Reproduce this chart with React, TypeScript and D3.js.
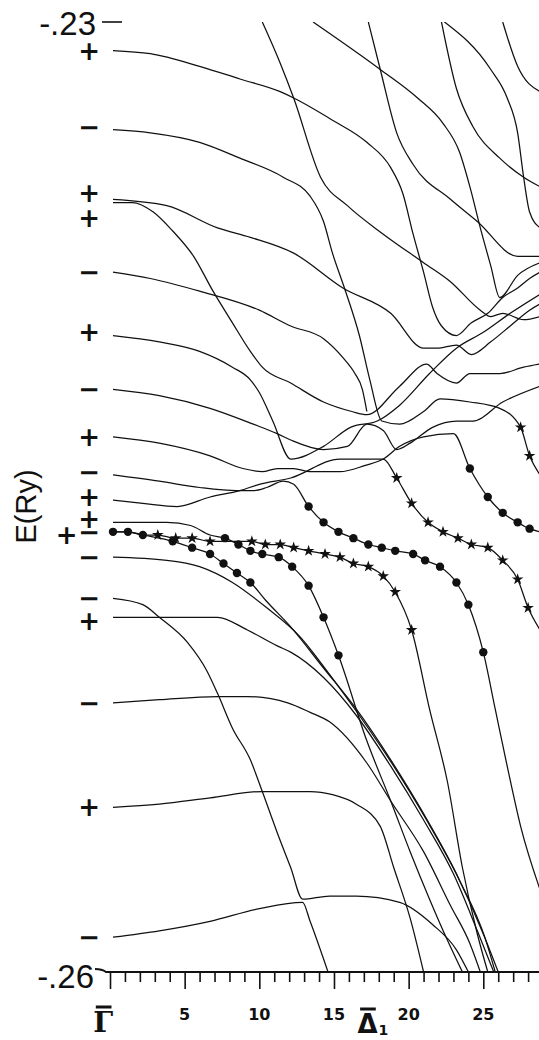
import { useRef, useEffect } from 'react';
import * as d3 from 'd3';

// k in grid steps from Γ̄ towards Δ̄1, E in mRy (axis labelled in Ry)
// third item marks a calculated point: 'c' = dot, 's' = star
type Pt = [number, number, string?];

const band01: Pt[] = [[0.2,-230.9],[2.7,-231.0],[6.0,-231.4],[8.7,-231.8],[11.4,-232.2],[12.3,-232.4],[14.9,-233.1],[17.2,-233.8],[18.8,-234.6],[19.6,-235.4],[20.3,-236.7],[21.0,-237.9],[21.6,-239.0],[22.2,-239.6],[23.2,-239.9],[24.2,-239.5],[25.3,-239.2],[26.3,-238.7],[27.3,-238.4],[28.1,-238.1],[28.8,-237.9]];
const band02: Pt[] = [[0.2,-233.4],[2.7,-233.5],[6.0,-233.8],[8.7,-234.3],[11.6,-234.9],[13.4,-235.5],[14.3,-236.3],[14.9,-237.3],[15.7,-238.4],[16.7,-239.9],[17.4,-241.3],[18.2,-242.6],[19.4,-242.7],[21.0,-242.3],[22.1,-241.9],[24.1,-242.0],[26.1,-242.2],[27.5,-242.8,'s'],[28.1,-243.7,'s'],[28.8,-244.3]];
const band03: Pt[] = [[0.2,-235.6],[3.8,-235.8],[7.2,-236.5],[9.4,-236.8],[12.3,-237.3],[15.6,-238.4],[18.8,-239.2],[21.0,-240.3],[21.9,-240.3],[23.2,-240.2],[24.2,-240.5],[25.5,-240.1],[26.8,-239.6],[28.1,-239.1],[28.8,-238.9]];
const band04: Pt[] = [[0.2,-235.7],[1.5,-235.7],[2.9,-236.0],[4.2,-236.6],[5.6,-237.4],[6.9,-238.5],[8.2,-239.5],[9.4,-240.4],[10.2,-240.9],[12.1,-241.4],[14.3,-242.0],[16.2,-242.3],[17.2,-242.4],[19.4,-241.5],[21.2,-240.8],[21.9,-241.1],[23.2,-241.4],[24.1,-241.1],[26.1,-241.1],[27.7,-240.9],[28.8,-240.8]];
const band05: Pt[] = [[0.2,-237.9],[2.7,-238.1],[6.0,-238.5],[10.0,-239.1],[12.1,-239.6],[14.3,-240.0],[15.6,-240.6],[16.4,-241.1],[16.9,-241.6],[17.2,-242.3]];
const band06: Pt[] = [[0.2,-239.9],[3.3,-240.1],[6.0,-240.4],[8.2,-240.9],[9.4,-241.3],[10.0,-241.7],[10.9,-242.6],[12.1,-243.8],[14.3,-243.4],[16.1,-242.8],[17.9,-242.6],[19.4,-242.1],[21.4,-241.1],[23.2,-240.3],[25.0,-239.8],[26.8,-239.2],[28.8,-238.6]];
const band07: Pt[] = [[0.2,-241.6],[3.3,-241.8],[6.7,-242.2],[9.6,-242.7],[11.2,-243.0],[12.1,-243.2],[14.3,-243.5],[15.9,-243.4],[17.2,-242.7],[18.3,-242.9],[19.2,-243.5],[20.1,-243.3],[21.6,-242.8],[23.2,-242.6],[24.3,-242.6],[26.3,-242.0],[28.8,-241.5]];
const band08: Pt[] = [[0.2,-243.1],[3.3,-243.3],[6.7,-243.7],[8.9,-244.1],[10.2,-244.2],[11.2,-244.1],[12.3,-244.1],[13.4,-244.2],[15.4,-244.2],[17.1,-244.0],[18.3,-243.8],[19.4,-243.4],[21.0,-243.1],[23.0,-243.0],[24.1,-244.1,'c'],[25.3,-245.0,'c'],[26.3,-245.5,'c'],[27.3,-245.8,'c'],[28.1,-246.0,'c'],[28.8,-246.1]];
const band09: Pt[] = [[0.2,-244.3],[3.3,-244.5],[6.0,-244.7],[8.5,-244.8],[9.6,-244.8],[10.5,-244.7],[11.6,-244.5],[12.3,-244.6],[13.3,-245.3,'c'],[14.3,-245.8,'c'],[15.3,-246.1,'c'],[16.3,-246.3,'c'],[17.3,-246.5,'c'],[18.2,-246.6,'c'],[19.1,-246.7,'c'],[20.3,-246.8,'c'],[21.1,-247.0,'c'],[22.1,-247.2,'c'],[23.2,-247.7,'c'],[24.0,-248.4,'c'],[25.0,-249.9,'c'],[25.8,-251.7],[26.6,-253.5],[27.5,-255.4],[28.8,-257.4]];
const band10: Pt[] = [[0.2,-245.1],[2.2,-245.2],[4.5,-245.3],[6.7,-245.0],[8.7,-244.8],[10.0,-244.6],[12.1,-244.4],[15.4,-243.8],[18.3,-243.8],[19.2,-244.4,'s'],[20.2,-245.2,'s'],[21.3,-245.8,'s'],[22.3,-246.1,'s'],[23.3,-246.3,'s'],[24.2,-246.5,'s'],[25.3,-246.6,'s'],[26.3,-247.0,'s'],[27.3,-247.6,'s'],[28.0,-248.5,'s'],[28.8,-249.2]];
const band11: Pt[] = [[0.2,-245.8],[3.8,-245.8],[5.4,-245.9],[6.7,-246.2],[7.7,-246.3,'c'],[8.6,-246.5,'c'],[9.4,-246.7,'c'],[10.2,-246.8,'c'],[11.3,-246.9,'c'],[12.2,-247.2,'c'],[13.3,-247.8,'c'],[14.3,-248.8,'c'],[15.3,-250.0,'c'],[17.2,-252.7],[18.8,-254.6],[20.1,-256.2],[21.4,-257.7],[22.6,-259.0],[23.6,-260.0]];
const band12: Pt[] = [[0.2,-246.1],[1.2,-246.1],[2.2,-246.2],[3.2,-246.2,'s'],[4.4,-246.3,'s'],[5.5,-246.3,'s'],[6.7,-246.4,'s'],[7.7,-246.4],[9.5,-246.4,'s'],[10.4,-246.5,'s'],[11.4,-246.5,'s'],[12.3,-246.6,'s'],[13.3,-246.7,'s'],[14.4,-246.8,'s'],[15.4,-246.9,'s'],[16.3,-247.1,'s'],[17.3,-247.2,'s'],[18.3,-247.5,'s'],[19.1,-248.0,'s'],[20.2,-249.2,'s'],[21.4,-251.7],[22.6,-254.0],[23.6,-256.7],[24.6,-258.8],[25.3,-260.0]];
const band13: Pt[] = [[0.2,-246.1,'c'],[1.2,-246.1,'c'],[2.2,-246.2,'c'],[4.2,-246.4,'c'],[5.5,-246.6,'c'],[6.7,-246.8,'c'],[7.6,-247.1,'c'],[8.5,-247.4,'c'],[9.4,-247.7,'c'],[10.5,-248.3],[12.1,-249.1],[14.3,-250.4],[16.5,-251.7],[18.8,-253.3],[21.0,-255.0],[23.2,-256.9],[25.0,-258.8],[26.0,-260.0]];
const band14: Pt[] = [[0.2,-246.9],[3.8,-247.0],[6.0,-247.2],[8.2,-247.7],[10.5,-248.5],[12.7,-249.4],[14.7,-250.6],[16.7,-251.9],[19.0,-253.5],[21.2,-255.2],[23.4,-257.1],[25.1,-258.9],[25.8,-260.0]];
const band15: Pt[] = [[0.2,-248.2],[2.2,-248.4],[3.3,-248.8],[5.2,-249.6],[6.5,-250.5],[7.2,-251.2],[8.2,-252.3],[9.4,-253.3],[10.2,-254.3],[11.2,-255.6],[12.1,-256.7],[12.9,-257.7],[14.7,-257.6],[16.5,-257.6],[19.4,-257.8],[21.6,-258.5],[23.2,-259.3],[24.0,-260.0]];
const band16: Pt[] = [[0.2,-248.8],[3.3,-248.8],[5.2,-248.8],[7.2,-248.8],[9.2,-249.2],[11.2,-249.7],[12.1,-249.9],[14.3,-250.7],[16.5,-251.9],[18.8,-253.5],[21.0,-255.2],[23.0,-256.9],[24.6,-258.7],[25.7,-260.0]];
const band17: Pt[] = [[0.2,-251.5],[3.3,-251.4],[7.2,-251.3],[9.2,-251.3],[11.9,-251.5],[13.4,-251.8],[14.7,-252.1],[17.2,-253.4],[18.8,-254.6],[21.0,-256.2],[22.8,-257.9],[24.1,-259.1],[24.8,-260.0]];
const band18: Pt[] = [[0.2,-254.8],[3.3,-254.7],[6.7,-254.5],[10.2,-254.3],[11.9,-254.3],[13.4,-254.3],[14.9,-254.4],[16.5,-254.7],[18.1,-255.4],[19.0,-256.7],[20.1,-258.3],[21.0,-260.0]];
const band19: Pt[] = [[0.2,-258.9],[3.3,-258.7],[6.7,-258.4],[10.0,-258.0],[12.9,-257.8],[13.4,-258.4],[14.6,-260.0]];

// bands entering from above -.23
const upper1: Pt[] = [[10.2,-230.0],[11.4,-231.3],[12.3,-232.4],[14.1,-234.9],[15.9,-235.8],[18.3,-236.7],[21.0,-237.6],[22.8,-238.2],[24.8,-239.1],[25.5,-239.3],[26.3,-239.2],[27.7,-239.4],[28.8,-239.3]];
const upper2: Pt[] = [[13.6,-230.0],[18.1,-231.5],[20.6,-232.4],[22.3,-233.2],[23.4,-234.1],[24.1,-235.2],[24.8,-236.5],[25.5,-237.7],[26.1,-238.7],[27.3,-238.0],[28.8,-237.6]];
const upper3: Pt[] = [[17.3,-230.0],[18.1,-231.5],[19.2,-233.5],[20.3,-234.5],[22.8,-235.6],[24.6,-236.3],[27.3,-237.4],[28.8,-237.4]];
const upper4: Pt[] = [[22.2,-230.0],[23.2,-232.1],[24.3,-233.3],[26.1,-234.3],[27.7,-234.9],[28.8,-235.2]];
const upper5: Pt[] = [[22.4,-230.0],[25.5,-231.5],[26.6,-232.4],[27.3,-233.5],[27.7,-234.9],[28.1,-236.0],[28.8,-236.5]];
const upper6: Pt[] = [[26.3,-230.0],[27.3,-231.4],[28.8,-232.2]];

const allBands = [band01, band02, band03, band04, band05, band06, band07, band08, band09, band10,
  band11, band12, band13, band14, band15, band16, band17, band18, band19,
  upper1, upper2, upper3, upper4, upper5, upper6];

// parity of the states at Γ̄ (col 1 = the outer label)
const paritySign = ['+','−','+','+','−','+','−','+','−','+','+','−','+','−','−','+','−','+','−'];
const parityE = [-230.9,-233.3,-235.4,-236.2,-237.9,-239.8,-241.6,-243.1,-244.2,-245.0,-245.7,-246.1,-246.2,-246.9,-248.2,-248.9,-251.5,-254.8,-258.9];
const parityCol = [0,0,0,0,0,0,0,0,0,0,0,0,1,0,0,0,0,0,0];

const xLabelTicks = [5, 10, 15, 20, 25];
const yTickValues = [-230, -260];
const yTickLabels = ['-.23', '-.26'];

export default function App() {
  const svgRef = useRef(null);

  useEffect(() => {
    const svg = d3.select(svgRef.current);
    svg.selectAll('*').remove();
    const W = 539, H = 1040;

    const x = d3.scaleLinear().domain([0, 28.73]).range([110, W]);
    const y = d3.scaleLinear().domain([-260, -230]).range([972, 22]);

    svg.append('rect').attr('width', W).attr('height', H).attr('fill', '#fff');

    svg.append('defs').append('clipPath').attr('id', 'plotArea')
      .append('rect')
      .attr('x', x(0) - 10).attr('y', y(-230))
      .attr('width', W - x(0) + 10).attr('height', y(-260) - y(-230));

    const line = d3.line<Pt>()
      .x(d => x(d[0]))
      .y(d => y(d[1]))
      .curve(d3.curveMonotoneX);

    const g = svg.append('g').attr('clip-path', 'url(#plotArea)');

    g.selectAll('.band')
      .data(allBands)
      .enter()
      .append('path')
      .attr('class', 'band')
      .attr('d', d => line(d))
      .attr('fill', 'none')
      .attr('stroke', '#111')
      .attr('stroke-width', 1.25);

    const marked = allBands.flatMap(b => b.filter(p => p[2]));

    g.selectAll('.dot')
      .data(marked.filter(p => p[2] === 'c'))
      .enter()
      .append('circle')
      .attr('class', 'dot')
      .attr('cx', d => x(d[0]))
      .attr('cy', d => y(d[1]))
      .attr('r', 4.2)
      .attr('fill', '#111');

    const star = d3.symbol().type(d3.symbolStar).size(42);
    g.selectAll('.star')
      .data(marked.filter(p => p[2] === 's'))
      .enter()
      .append('path')
      .attr('class', 'star')
      .attr('transform', d => `translate(${x(d[0])},${y(d[1])})`)
      .attr('d', star())
      .attr('fill', '#111');

    // x axis: unit ticks, longer every 5
    const axisY = y(-260);
    const xAxis = d3.axisBottom(x)
      .tickValues(d3.range(0, 29))
      .tickSize(10)
      .tickFormat(() => '');
    const ax = svg.append('g').attr('transform', `translate(0,${axisY})`).call(xAxis);
    ax.select('.domain').remove();
    ax.selectAll('.tick line')
      .attr('stroke', '#111')
      .attr('stroke-width', 1.6)
      .attr('y2', (d: any) => (d % 5 === 0 ? 17 : 10));

    svg.append('path')
      .attr('d', `M${x(0) - 15},${axisY - 3} Q${x(0) - 8},${axisY - 3} ${x(0) - 4},${axisY} L${W},${axisY}`)
      .attr('fill', 'none')
      .attr('stroke', '#111')
      .attr('stroke-width', 1.8);

    svg.selectAll('.xlab')
      .data(xLabelTicks)
      .enter()
      .append('text')
      .attr('class', 'xlab')
      .attr('x', d => x(d))
      .attr('y', axisY + 48)
      .attr('text-anchor', 'middle')
      .style('font-family', 'DejaVu Sans')
      .style('font-weight', 'bold')
      .style('font-size', '16px')
      .style('fill', '#111')
      .text(d => d);

    // Γ̄ and Δ̄1
    svg.append('text')
      .attr('x', x(-0.45)).attr('y', axisY + 60)
      .attr('text-anchor', 'middle')
      .style('font-family', 'DejaVu Serif')
      .style('font-weight', 'bold')
      .style('font-size', '28px')
      .style('fill', '#111')
      .text('Γ');
    svg.append('line')
      .attr('x1', x(-0.95)).attr('x2', x(0.1))
      .attr('y1', axisY + 35).attr('y2', axisY + 35)
      .attr('stroke', '#111').attr('stroke-width', 3);

    svg.append('text')
      .attr('x', x(17.25)).attr('y', axisY + 61)
      .attr('text-anchor', 'middle')
      .style('font-family', 'DejaVu Sans')
      .style('font-weight', 'bold')
      .style('font-size', '26px')
      .style('fill', '#111')
      .text('Δ');
    svg.append('line')
      .attr('x1', x(16.75)).attr('x2', x(17.8))
      .attr('y1', axisY + 37).attr('y2', axisY + 37)
      .attr('stroke', '#111').attr('stroke-width', 3);
    svg.append('text')
      .attr('x', x(18.3)).attr('y', axisY + 63)
      .attr('text-anchor', 'middle')
      .style('font-family', 'DejaVu Sans')
      .style('font-weight', 'bold')
      .style('font-size', '14px')
      .style('fill', '#111')
      .text('1');

    // y tick labels
    svg.selectAll('.ylab')
      .data(yTickValues)
      .enter()
      .append('text')
      .attr('class', 'ylab')
      .attr('x', (d, i) => (i === 0 ? 96 : 94))
      .attr('y', (d, i) => y(d) + (i === 0 ? 13 : 16))
      .attr('text-anchor', 'end')
      .style('font-family', 'Liberation Sans')
      .style('font-size', '33px')
      .style('fill', '#111')
      .text((d, i) => yTickLabels[i]);
    svg.append('line')
      .attr('x1', 102).attr('x2', 122)
      .attr('y1', y(-230)).attr('y2', y(-230))
      .attr('stroke', '#111').attr('stroke-width', 1.6);

    svg.append('text')
      .attr('transform', `translate(26,${y(-245.3)}) rotate(-90)`)
      .attr('text-anchor', 'middle')
      .attr('dominant-baseline', 'central')
      .style('font-family', 'Liberation Sans')
      .style('font-size', '29px')
      .style('fill', '#111')
      .text('E(Ry)');

    // parity labels
    svg.selectAll('.parity')
      .data(paritySign)
      .enter()
      .append('text')
      .attr('class', 'parity')
      .attr('x', (d, i) => (parityCol[i] === 1 ? x(-2.9) : x(-1.4)))
      .attr('y', (d, i) => y(parityE[i]))
      .attr('text-anchor', 'middle')
      .attr('dominant-baseline', 'central')
      .style('font-family', 'DejaVu Sans')
      .style('font-weight', 'bold')
      .style('font-size', '26px')
      .style('fill', '#111')
      .text(d => d);
  }, []);

  return (
    <svg
      ref={svgRef}
      width={539}
      height={1040}
      style={{ position: 'absolute', left: 0, top: 0, display: 'block' }}
    />
  );
}
